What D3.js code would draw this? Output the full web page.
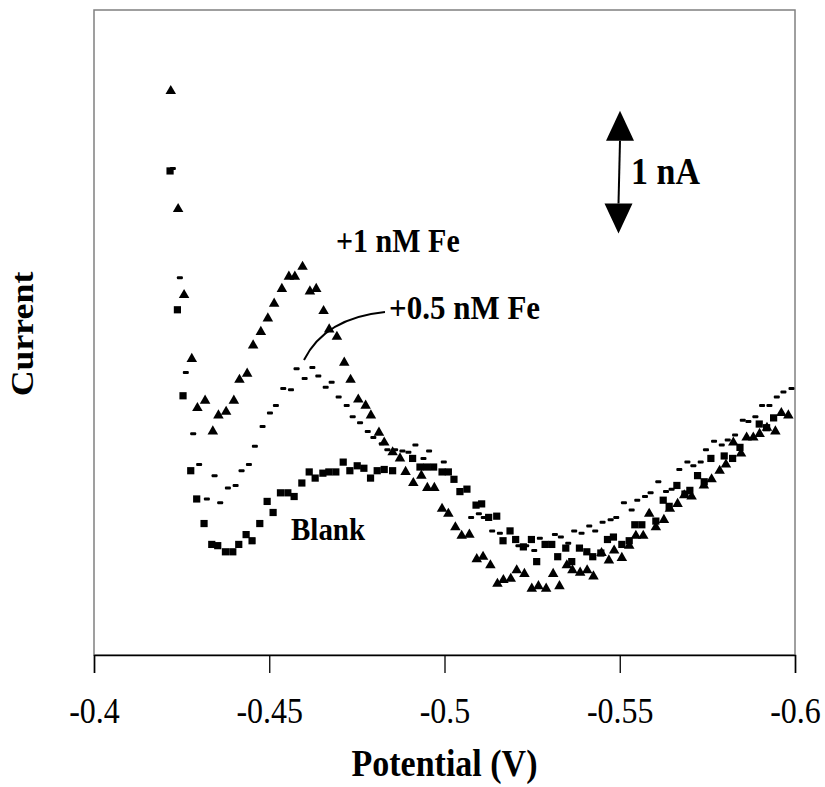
<!DOCTYPE html>
<html>
<head>
<meta charset="utf-8">
<script src="https://cdn.jsdelivr.net/npm/d3@7"></script>
<style>
  body { margin: 0; background: #fff; }
  svg { display: block; font-family: "Liberation Serif", "Times New Roman", serif; }
</style>
</head>
<body>
<svg id="chart" width="825" height="787"></svg>
<script>
// potential (V) and current (nA)
var blankV = [-0.4217, -0.4238, -0.4254, -0.4276, -0.4293, -0.4314, -0.4336, -0.4353, -0.4375, -0.4396,
   -0.4413, -0.4434, -0.4451, -0.4473, -0.4494, -0.4511, -0.4532, -0.4553, -0.4571, -0.4593,
   -0.4614, -0.4631, -0.4653, -0.4670, -0.4690, -0.4711, -0.4730, -0.4751, -0.4770, -0.4789,
   -0.4808, -0.4828, -0.4852, -0.4909, -0.4930, -0.4949, -0.4969, -0.4993, -0.5011, -0.5027,
   -0.5044, -0.5064, -0.5090, -0.5106, -0.5126, -0.5149, -0.5167, -0.5187, -0.5203, -0.5225,
   -0.5248, -0.5263, -0.5287, -0.5306, -0.5323, -0.5346, -0.5363, -0.5385, -0.5406, -0.5423,
   -0.5446, -0.5465, -0.5482, -0.5506, -0.5527, -0.5543, -0.5563, -0.5603, -0.5624, -0.5641,
   -0.5663, -0.5686, -0.5700, -0.5722, -0.5741, -0.5760, -0.5798, -0.5822, -0.5843, -0.5898,
   -0.5919, -0.5939];
var blankI = [3.94, 2.81, 2.11, 1.50, 1.27, 1.07, 0.90, 0.89, 0.84, 0.84,
   0.90, 0.98, 0.93, 1.07, 1.25, 1.16, 1.32, 1.32, 1.29, 1.40,
   1.49, 1.44, 1.48, 1.49, 1.49, 1.57, 1.50, 1.54, 1.52, 1.44,
   1.50, 1.51, 1.50, 1.60, 1.53, 1.53, 1.53, 1.49, 1.49, 1.43,
   1.33, 1.35, 1.22, 1.23, 1.12, 1.13, 0.93, 1.01, 0.94, 0.88,
   0.94, 0.76, 0.90, 0.90, 0.80, 0.87, 0.76, 0.87, 0.84, 0.80,
   0.83, 0.94, 0.96, 0.90, 0.93, 1.06, 1.06, 1.09, 1.26, 1.21,
   1.38, 1.31, 1.34, 1.46, 1.41, 1.60, 1.62, 1.60, 1.69, 1.88,
   1.85, 1.93];

var halfV = [-0.4225, -0.4245, -0.4262, -0.4283, -0.4300, -0.4322, -0.4344, -0.4360, -0.4382, -0.4404,
   -0.4421, -0.4442, -0.4459, -0.4481, -0.4502, -0.4519, -0.4540, -0.4562, -0.4578, -0.4601,
   -0.4623, -0.4640, -0.4661, -0.4678, -0.4698, -0.4721, -0.4738, -0.4759, -0.4781, -0.4797,
   -0.4821, -0.4837, -0.4859, -0.4880, -0.4897, -0.4917, -0.4940, -0.4956, -0.4998, -0.5076,
   -0.5098, -0.5112, -0.5136, -0.5158, -0.5211, -0.5233, -0.5256, -0.5272, -0.5315, -0.5332,
   -0.5353, -0.5370, -0.5391, -0.5413, -0.5430, -0.5451, -0.5474, -0.5490, -0.5512, -0.5534,
   -0.5550, -0.5572, -0.5588, -0.5610, -0.5632, -0.5648, -0.5670, -0.5693, -0.5710, -0.5731,
   -0.5746, -0.5769, -0.5791, -0.5808, -0.5829, -0.5851, -0.5867, -0.5887, -0.5906, -0.5927,
   -0.5948, -0.5967, -0.5990];
var halfI = [3.96, 3.07, 2.30, 1.80, 1.55, 1.27, 1.46, 1.24, 1.36, 1.38,
   1.50, 1.55, 1.70, 1.86, 1.97, 2.03, 2.17, 2.16, 2.33, 2.25,
   2.34, 2.27, 2.18, 2.22, 2.10, 2.03, 1.94, 1.89, 1.82, 1.77,
   1.72, 1.67, 1.67, 1.66, 1.65, 1.71, 1.60, 1.66, 1.57, 1.12,
   1.15, 1.12, 1.01, 0.99, 0.89, 0.89, 0.85, 0.95, 0.98, 0.96,
   0.91, 1.01, 0.99, 1.05, 1.01, 1.08, 1.10, 1.12, 1.24, 1.18,
   1.26, 1.29, 1.32, 1.41, 1.33, 1.35, 1.51, 1.57, 1.54, 1.57,
   1.67, 1.74, 1.71, 1.75, 1.79, 1.91, 1.90, 1.94, 2.03, 2.03,
   2.10, 2.14, 2.17];

var oneV = [-0.4219, -0.4240, -0.4257, -0.4279, -0.4295, -0.4317, -0.4339, -0.4355, -0.4377, -0.4399,
   -0.4415, -0.4437, -0.4454, -0.4476, -0.4496, -0.4514, -0.4536, -0.4556, -0.4573, -0.4595,
   -0.4616, -0.4634, -0.4655, -0.4671, -0.4693, -0.4714, -0.4732, -0.4754, -0.4775, -0.4790,
   -0.4813, -0.4828, -0.4852, -0.4873, -0.4889, -0.4911, -0.4934, -0.4951, -0.4971, -0.4993,
   -0.5011, -0.5031, -0.5049, -0.5071, -0.5092, -0.5110, -0.5131, -0.5151, -0.5168, -0.5189,
   -0.5206, -0.5228, -0.5249, -0.5268, -0.5290, -0.5310, -0.5328, -0.5349, -0.5365, -0.5387,
   -0.5407, -0.5425, -0.5448, -0.5469, -0.5484, -0.5506, -0.5527, -0.5546, -0.5567, -0.5584,
   -0.5603, -0.5626, -0.5643, -0.5665, -0.5684, -0.5705, -0.5740, -0.5762, -0.5785, -0.5803,
   -0.5824, -0.5846, -0.5862, -0.5881, -0.5899, -0.5920, -0.5944, -0.5961, -0.5981];
var oneI = [4.59, 3.63, 2.93, 2.41, 2.01, 2.07, 1.82, 1.95, 1.98, 2.07,
   2.24, 2.29, 2.52, 2.63, 2.74, 2.86, 2.98, 3.08, 3.08, 3.16,
   2.96, 2.98, 2.80, 2.65, 2.59, 2.38, 2.24, 2.08, 2.03, 1.95,
   1.81, 1.73, 1.65, 1.60, 1.49, 1.40, 1.46, 1.36, 1.36, 1.19,
   1.15, 1.04, 0.97, 0.98, 0.78, 0.80, 0.73, 0.58, 0.61, 0.62,
   0.69, 0.66, 0.54, 0.56, 0.54, 0.66, 0.56, 0.73, 0.69, 0.67,
   0.69, 0.64, 0.83, 0.77, 0.85, 0.79, 0.89, 0.97, 0.97, 1.15,
   1.04, 1.10, 1.19, 1.23, 1.30, 1.29, 1.38, 1.43, 1.50, 1.55,
   1.73, 1.64, 1.77, 1.77, 1.80, 1.85, 1.82, 1.97, 1.95];

var xTicks = [-0.4, -0.45, -0.5, -0.55, -0.6];
var scaleBarNA = 1;

(function () {
   var svg = d3.select('#chart');
   var margin = {top: 10, right: 30, bottom: 132, left: 94};
   var width = +svg.attr('width') - margin.left - margin.right;
   var height = +svg.attr('height') - margin.top - margin.bottom;
   var stretch = 1.12; // the source text is drawn a little tall

   var x = d3.scaleLinear().domain([-0.4, -0.6]).range([0, width]);
   var y = d3.scaleLinear().domain([0, 5.25]).range([height, 0]);

   var g = svg.append('g')
      .attr('transform', 'translate(' + margin.left + ',' + margin.top + ')');

   // tall text placed at (px, py) baseline
   var tallText = function (parent, px, py, size, str, anchor) {
      return parent.append('text')
         .attr('transform', 'translate(' + px + ',' + py + ') scale(1,' + stretch + ')')
         .attr('text-anchor', anchor || 'start')
         .style('font-size', size + 'px')
         .style('font-weight', 'bold')
         .attr('fill', '#000')
         .text(str);
   };

   // plot area frame
   g.append('rect')
      .attr('width', width)
      .attr('height', height)
      .attr('fill', 'none')
      .attr('stroke', '#808080')
      .attr('stroke-width', 1.5);

   var xAxis = d3.axisBottom(x)
      .tickValues(xTicks)
      .tickSize(18)
      .tickPadding(20)
      .tickFormat(function (d) { return String(d); });

   var axisG = g.append('g')
      .attr('transform', 'translate(0,' + height + ')')
      .call(xAxis);
   axisG.select('.domain').attr('stroke', '#000').attr('stroke-width', 1.5);
   axisG.selectAll('.tick line').attr('stroke', '#000').attr('stroke-width', 1.3);
   axisG.selectAll('.tick text')
      .attr('fill', '#000')
      .attr('transform', 'scale(1,' + stretch + ')')
      .style('font-family', '"Liberation Serif", serif')
      .style('font-size', '32px');

   // axis titles
   tallText(svg, margin.left + width / 2, 776, 34, 'Potential (V)', 'middle');

   svg.append('text')
      .attr('transform', 'translate(33,' + 334 + ') rotate(-90) scale(' + stretch + ',1)')
      .attr('text-anchor', 'middle')
      .style('font-size', '32px')
      .style('font-weight', 'bold')
      .text('Current');

   // series
   var tri = d3.symbol().type(d3.symbolTriangle).size(48);
   var sq = d3.symbol().type(d3.symbolSquare).size(52);

   g.append('g').selectAll('path.blank')
      .data(d3.range(blankV.length))
      .enter().append('path')
      .attr('class', 'blank')
      .attr('d', sq)
      .attr('transform', function (i) { return 'translate(' + x(blankV[i]) + ',' + y(blankI[i]) + ')'; })
      .attr('fill', '#000');

   g.append('g').selectAll('rect.half')
      .data(d3.range(halfV.length))
      .enter().append('rect')
      .attr('class', 'half')
      .attr('x', function (i) { return x(halfV[i]) - 3; })
      .attr('y', function (i) { return y(halfI[i]) - 1.5; })
      .attr('width', 6)
      .attr('height', 3)
      .attr('rx', 1)
      .attr('fill', '#000');

   g.append('g').selectAll('path.one')
      .data(d3.range(oneV.length))
      .enter().append('path')
      .attr('class', 'one')
      .attr('d', tri)
      .attr('transform', function (i) { return 'translate(' + x(oneV[i]) + ',' + y(oneI[i]) + ')'; })
      .attr('fill', '#000');

   // labels
   tallText(g, 336 - margin.left, 252 - margin.top, 30, '+1 nM Fe');
   tallText(g, 389 - margin.left, 319 - margin.top, 31, '+0.5 nM Fe');
   tallText(g, 291 - margin.left, 540 - margin.top, 29, 'Blank');

   // leader line to the +0.5 nM Fe trace
   g.append('path')
      .attr('d', 'M' + (304 - margin.left) + ',' + (360 - margin.top) +
         ' Q' + (325 - margin.left) + ',' + (318 - margin.top) +
         ' ' + (385 - margin.left) + ',' + (312 - margin.top))
      .attr('fill', 'none')
      .attr('stroke', '#000')
      .attr('stroke-width', 2);

   // 1 nA scale bar
   var barX = 620 - margin.left;
   var barTop = y(4.43), barBottom = y(4.43 - scaleBarNA);
   var head = 30, halfW = 14;
   g.append('line')
      .attr('x1', barX).attr('x2', barX - 1.5)
      .attr('y1', barTop + head).attr('y2', barBottom - head)
      .attr('stroke', '#000').attr('stroke-width', 2);
   g.append('path')
      .attr('d', 'M' + barX + ',' + barTop + ' L' + (barX + halfW) + ',' + (barTop + head) +
         ' L' + (barX - halfW) + ',' + (barTop + head) + 'Z')
      .attr('fill', '#000');
   g.append('path')
      .attr('d', 'M' + (barX - 1.5) + ',' + barBottom + ' L' + (barX - 1.5 + halfW) + ',' + (barBottom - head) +
         ' L' + (barX - 1.5 - halfW) + ',' + (barBottom - head) + 'Z')
      .attr('fill', '#000');
   tallText(g, 631 - margin.left, 184 - margin.top, 34, '1 nA');
})();
</script>
</body>
</html>
